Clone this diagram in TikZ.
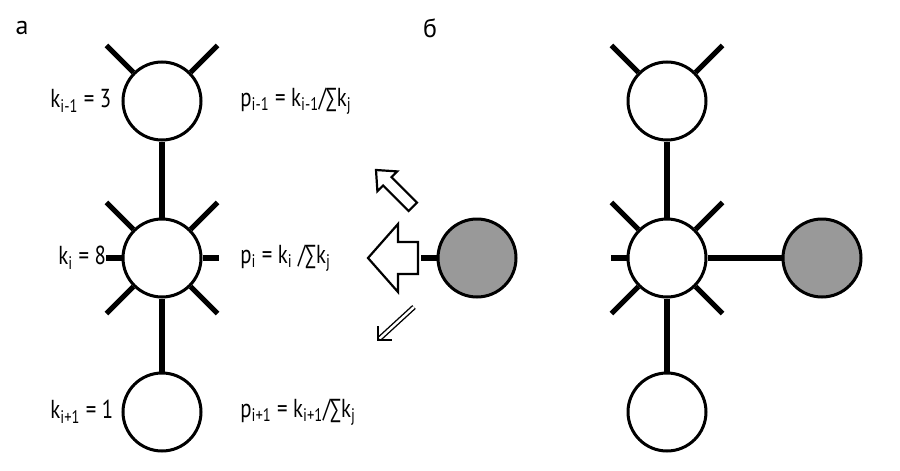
\documentclass[tikz,border=0pt]{standalone}
\usepackage{fontspec}
\setmainfont{PT Sans}
\usetikzlibrary{arrows.meta,calc}
\newcommand{\cnd}[1]{\scalebox{0.8}[1]{#1}}
\begin{document}
\begin{tikzpicture}[x=0.5pt,y=-0.5pt,
  v/.style={circle,draw,line width=1.5pt,minimum size=39pt,inner sep=0pt,fill=white},
  g/.style={v,fill=black!40},
  st/.style={line width=2.6pt},
  lab/.style={font=\fontsize{13}{15}\selectfont,inner sep=0pt},
  ha/.style={draw,line width=1.1pt,fill=white,line join=miter}]
\useasboundingbox (0,0) rectangle (900,471);
\node[lab] at (22,28) {а};
\node[lab] at (430,28) {б};
\foreach \n/\x in {a/162,b/667}{
  \node[v] (\n1) at (\x,101) {};
  \node[v] (\n2) at (\x,258) {};
  \node[v] (\n3) at (\x,412) {};
  \draw[st] (\n1) -- (\n2);
  \draw[st] (\n2) -- (\n3);
  \foreach \a in {45,135}{\draw[st] (\n1.\a) -- ($(\n1.\a)!-19pt!(\n1.center)$);}
  \foreach \a in {45,135,225,315}{\draw[st] (\n2.\a) -- ($(\n2.\a)!-19pt!(\n2.center)$);}
  \draw[st] (\n2.180) -- ($(\n2.180)!-8pt!(\n2.center)$);
}
\draw[st] (a2.0) -- ($(a2.0)!-8pt!(a2.center)$);
\node[lab,anchor=west] (k1) at (50,101) {\cnd{k\textsubscript{i-1} = 3}};
\node[lab,anchor=west] (k2) at (58,258) {\cnd{k\textsubscript{i} = 8}};
\node[lab,anchor=west] (k3) at (50,412) {\cnd{k\textsubscript{i+1} = 1}};
\node[lab,anchor=west] (p1) at (240,101) {\cnd{p\textsubscript{i-1} = k\textsubscript{i-1}/∑k\textsubscript{j}}};
\node[lab,anchor=west] (p2) at (240,258) {\cnd{p\textsubscript{i} = k\textsubscript{i} /∑k\textsubscript{j}}};
\node[lab,anchor=west] (p3) at (240,412) {\cnd{p\textsubscript{i+1} = k\textsubscript{i+1}/∑k\textsubscript{j}}};
\node[g] (n) at (477,258) {};
\draw[st] (n.180) -- ($(n.180)!-8pt!(n.center)$);
\node[g] (m) at (822,258) {};
\draw[st] (b2) -- (m);
\draw[ha] (368,258) -- (398,224) -- (398,242) -- (418,242) -- (418,274) -- (398,274) -- (398,292) -- cycle;
\draw[ha] (376,170) -- (397.2,171.4) -- (391.5,177.1) -- (417.0,202.6) -- (408.6,211.0) -- (383.1,185.5) -- (377.4,191.2) -- cycle;
\coordinate (t1) at (414,307);
\coordinate (t2) at (378,340);
\draw[line width=0.7pt,double=white,double distance=1.2pt,shorten >=1pt] (t1) -- (t2);
\draw[line width=1.3pt] ($(t2)+(0,-14)$) -- (t2) -- ($(t2)+(14,0)$);
\end{tikzpicture}
\end{document}
